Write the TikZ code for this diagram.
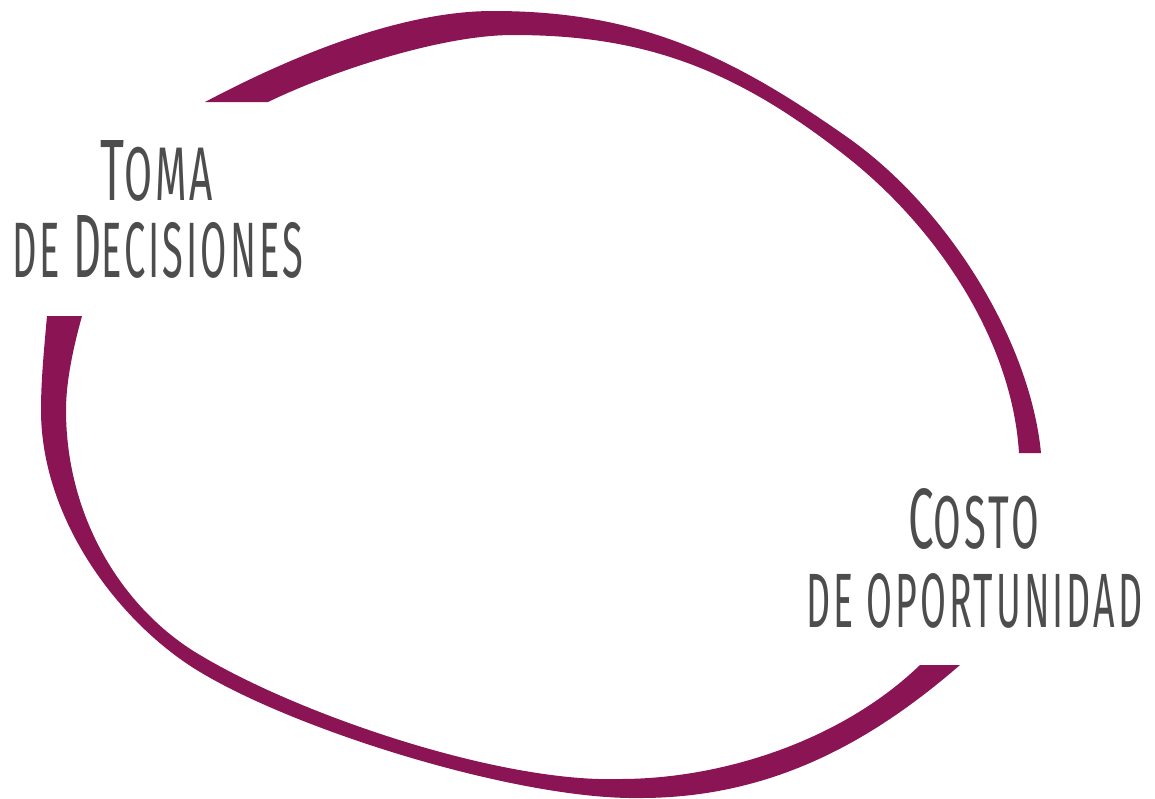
\documentclass[tikz,border=0pt]{standalone}
\usepackage{fontspec}
\usepackage{graphicx}
\newfontfamily\handfont[LetterSpace=8]{Fira Sans}
\definecolor{ringpurple}{HTML}{8A1454}
\definecolor{labelgray}{HTML}{4D4D4D}
\newcommand{\capltr}[1]{{\fontsize{87}{90}\selectfont #1}}
\newcommand{\smltr}[1]{{\fontsize{76}{80}\selectfont #1}}
\tikzset{
  ring/.style={fill=ringpurple, draw=none},
  label/.style={inner sep=0pt, anchor=base west, text=labelgray, font=\handfont}
}
\begin{document}
\begin{tikzpicture}[x=1pt,y=-1pt]
\useasboundingbox (0,0) rectangle (1155,798);
% upper arc: outer edge, then inner edge back
\fill[ring] (205,102) .. controls (290,57) and (400,11) .. (493,11)
  .. controls (637,11) and (729,54) .. (847,137)
  .. controls (947,207) and (1030,340) .. (1041,453)
  -- (1019,453)
  .. controls (1012,340) and (937,228) .. (847,157)
  .. controls (732,66) and (640,35) .. (513,35)
  .. controls (440,35) and (330,72) .. (268,102)
  -- cycle;
% lower arc: outer edge, then inner edge back
\fill[ring] (47,316) .. controls (44,350) and (41,380) .. (41,410)
  .. controls (41,520) and (120,624) .. (200,672)
  .. controls (300,732) and (520,800) .. (640,798)
  .. controls (770,798) and (870,743) .. (960,665)
  -- (920,665)
  .. controls (840,742) and (720,779) .. (620,779)
  .. controls (500,783) and (300,715) .. (200,655)
  .. controls (125,611) and (66,520) .. (66,410)
  .. controls (66,380) and (74,345) .. (82,316)
  -- cycle;
% labels
\node[label] (toma) at (100,200) {\resizebox{113pt}{60pt}{\capltr{T}\smltr{OMA}}};
\node[label] (decisiones) at (12,277) {\resizebox{291pt}{62pt}{\smltr{DE\ }\capltr{D}\smltr{ECISIONES}}};
\node[label] (costo) at (908,548) {\resizebox{131pt}{60pt}{\capltr{C}\smltr{OSTO}}};
\node[label] (oportunidad) at (806,627) {\resizebox{336pt}{54pt}{\smltr{DE OPORTUNIDAD}}};
\end{tikzpicture}
\end{document}
